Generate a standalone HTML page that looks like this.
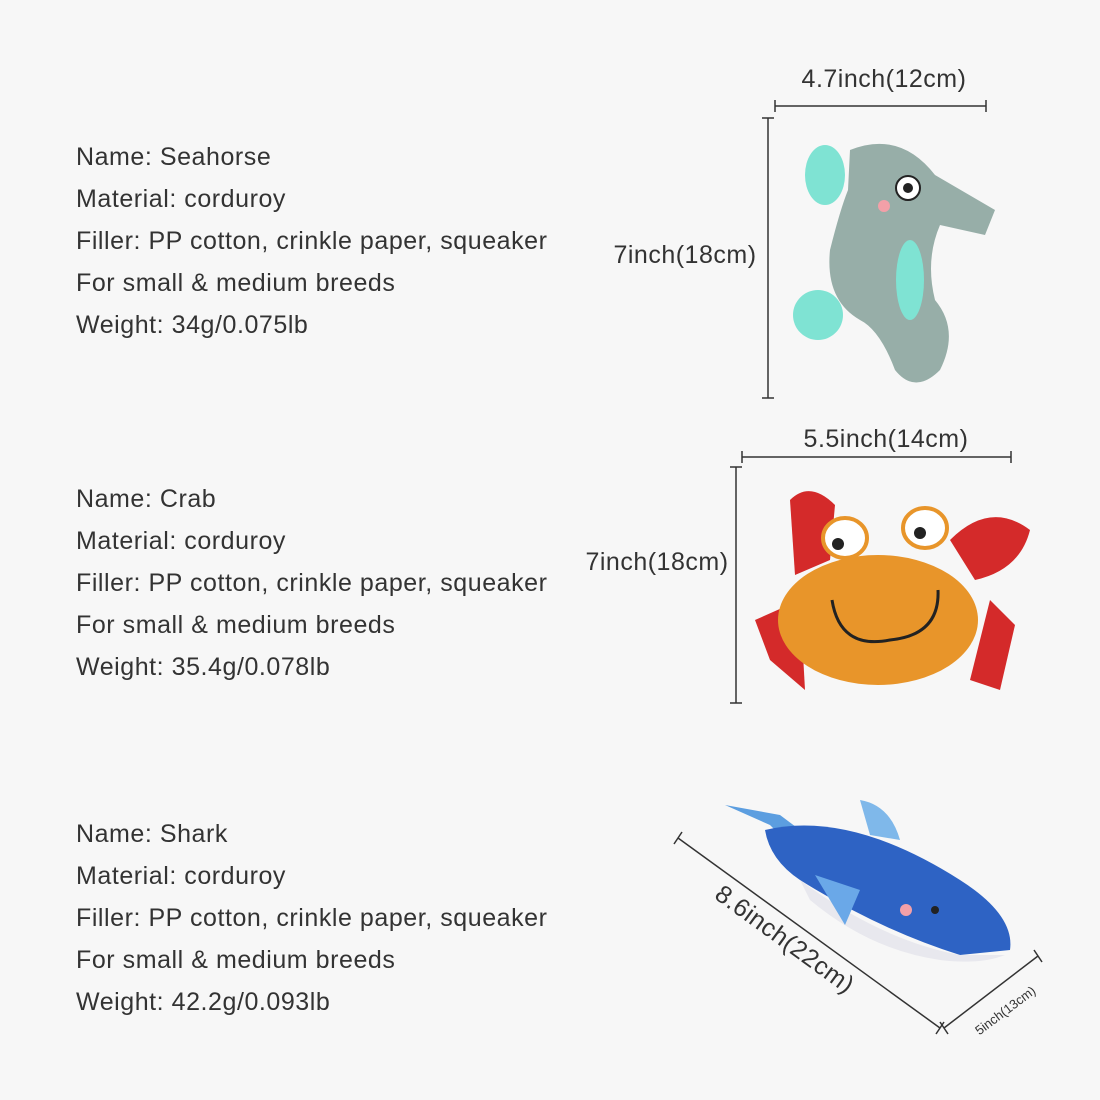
<!DOCTYPE html>
<html><head><meta charset="utf-8"><style>
html,body{margin:0;padding:0;background:#f7f7f7;}
#c{position:relative;width:1100px;height:1100px;overflow:hidden;font-family:"Liberation Sans",sans-serif;color:#333;}
.t{position:absolute;left:76px;font-size:25px;letter-spacing:0.55px;line-height:42px;}
svg{position:absolute;left:0;top:0}
</style></head><body><div id="c">
<div class="t" style="top:136px">Name: Seahorse<br>Material: corduroy<br>Filler: PP cotton, crinkle paper, squeaker<br>For small &amp; medium breeds<br>Weight: 34g/0.075lb</div>
<div class="t" style="top:478px">Name: Crab<br>Material: corduroy<br>Filler: PP cotton, crinkle paper, squeaker<br>For small &amp; medium breeds<br>Weight: 35.4g/0.078lb</div>
<div class="t" style="top:813px">Name: Shark<br>Material: corduroy<br>Filler: PP cotton, crinkle paper, squeaker<br>For small &amp; medium breeds<br>Weight: 42.2g/0.093lb</div>
<svg width="1100" height="1100" font-family="Liberation Sans, sans-serif" fill="#333">
<g stroke="#333" stroke-width="1.5">
<line x1="775" y1="106" x2="986" y2="106"/><line x1="775" y1="100" x2="775" y2="112"/><line x1="986" y1="100" x2="986" y2="112"/>
<line x1="768" y1="118" x2="768" y2="398"/><line x1="762" y1="118" x2="774" y2="118"/><line x1="762" y1="398" x2="774" y2="398"/>
<line x1="742" y1="457" x2="1011" y2="457"/><line x1="742" y1="451" x2="742" y2="463"/><line x1="1011" y1="451" x2="1011" y2="463"/>
<line x1="736" y1="467" x2="736" y2="703"/><line x1="730" y1="467" x2="742" y2="467"/><line x1="730" y1="703" x2="742" y2="703"/>
<line x1="678" y1="838" x2="940" y2="1028"/><line x1="674" y1="844" x2="682" y2="832"/><line x1="936" y1="1034" x2="944" y2="1022"/>
<line x1="944" y1="1028" x2="1038" y2="956"/><line x1="940" y1="1022" x2="948" y2="1034"/><line x1="1034" y1="950" x2="1042" y2="962"/>
</g>
<text x="884" y="87" font-size="25" letter-spacing="0.5" text-anchor="middle">4.7inch(12cm)</text>
<text x="685" y="263" font-size="25" letter-spacing="0.5" text-anchor="middle">7inch(18cm)</text>
<text x="886" y="447" font-size="25" letter-spacing="0.5" text-anchor="middle">5.5inch(14cm)</text>
<text x="657" y="570" font-size="25" letter-spacing="0.5" text-anchor="middle">7inch(18cm)</text>
<text x="780" y="946" font-size="25" letter-spacing="0.5" text-anchor="middle" transform="rotate(36 780 946)">8.6inch(22cm)</text>
<text x="1008" y="1014" font-size="13" text-anchor="middle" transform="rotate(-37 1008 1014)">5inch(13cm)</text>
<!-- seahorse -->
<ellipse cx="825" cy="175" rx="20" ry="30" fill="#7fe3d3"/>
<path d="M850 150 Q900 130 935 175 L995 210 L985 235 L940 225 Q925 260 935 300 Q960 330 940 370 Q915 395 895 370 Q880 330 860 320 Q825 300 830 250 Q840 210 848 190 Z" fill="#97aea8"/>
<ellipse cx="818" cy="315" rx="25" ry="25" fill="#7fe3d3"/>
<ellipse cx="910" cy="280" rx="14" ry="40" fill="#7fe3d3"/>
<circle cx="908" cy="188" r="12" fill="#fff" stroke="#222" stroke-width="2"/><circle cx="908" cy="188" r="5" fill="#222"/>
<circle cx="884" cy="206" r="6" fill="#f3a0a8"/>
<!-- crab -->
<path d="M790 500 Q810 480 835 505 L830 560 L795 575 Z" fill="#d42a2a"/>
<path d="M950 540 Q990 500 1030 530 Q1020 570 975 580 Z" fill="#d42a2a"/>
<path d="M755 620 L800 600 L805 690 L770 660 Z" fill="#d42a2a"/>
<path d="M1015 625 L990 600 L970 680 L1000 690 Z" fill="#d42a2a"/>
<ellipse cx="878" cy="620" rx="100" ry="65" fill="#e8952a"/>
<ellipse cx="845" cy="538" rx="22" ry="20" fill="#fff" stroke="#e8952a" stroke-width="4"/><circle cx="838" cy="544" r="6" fill="#222"/>
<ellipse cx="925" cy="528" rx="22" ry="20" fill="#fff" stroke="#e8952a" stroke-width="4"/><circle cx="920" cy="533" r="6" fill="#222"/>
<path d="M832 600 Q840 650 890 640 Q940 635 938 590" fill="none" stroke="#222" stroke-width="3"/>
<!-- shark -->
<path d="M725 805 L780 815 L800 830 L790 845 L770 825 Z" fill="#5c9ee0"/>
<path d="M860 800 Q890 805 900 840 L870 835 Z" fill="#7fb8ea"/>
<path d="M765 830 Q850 810 960 880 Q1015 915 1010 950 L960 955 Q880 930 800 880 Q770 860 765 830 Z" fill="#2e63c4"/>
<path d="M800 880 Q880 940 960 955 L1005 955 Q980 965 940 960 Q870 950 810 900 Z" fill="#e8e8ee"/>
<path d="M815 875 L860 890 L845 925 Z" fill="#6aa8e8"/>
<circle cx="935" cy="910" r="4" fill="#222"/><circle cx="906" cy="910" r="6" fill="#f3a0a8"/>
</svg>
</div></body></html>
